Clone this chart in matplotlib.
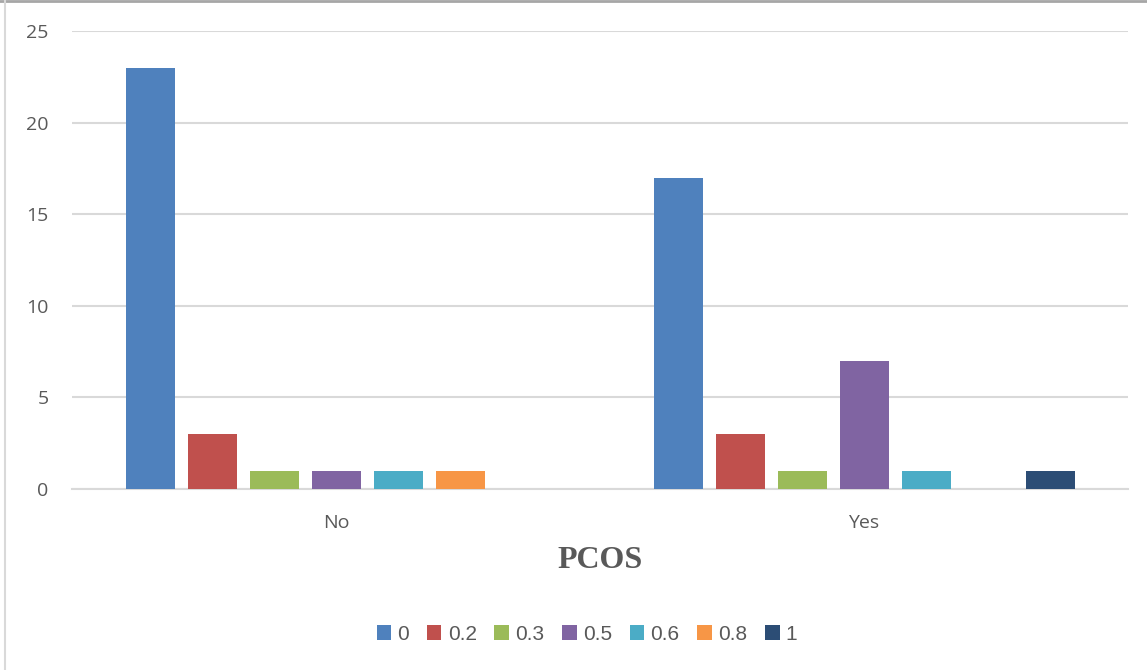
import numpy as np
import matplotlib.pyplot as plt
from matplotlib.lines import Line2D

# grouped bar counts per PCOS answer
groups = ["No", "Yes"]
series = ["0", "0.2", "0.3", "0.5", "0.6", "0.8", "1"]
counts_no = [23, 3, 1, 1, 1, 1, 0]
counts_yes = [17, 3, 1, 7, 1, 0, 1]
colors = ["#4F81BD", "#C0504D", "#9BBB59", "#8064A2", "#4BACC6", "#F79646", "#2C4D75"]

text_grey = "#595959"
grid_grey = "#D9D9D9"

fig = plt.figure(figsize=(11.47, 6.70), dpi=100)
ax = fig.add_axes([72 / 1147, 181 / 670, 1056 / 1147, 458 / 670])

x = np.arange(len(groups))
slot = 62 / 528
width = 49 / 528
for i, name in enumerate(series):
    vals = [counts_no[i], counts_yes[i]]
    offs = (i - (len(series) - 1) / 2) * slot
    ax.bar(x + offs, vals, width, color=colors[i], label=name, zorder=3)

ax.set_xlim(-0.5, 1.5)
ax.set_ylim(0, 25)
ax.set_yticks([0, 5, 10, 15, 20, 25])
ax.set_xticks(x)
ax.set_xticklabels(groups)
ax.yaxis.grid(True, color=grid_grey, linewidth=1.5, zorder=0)
ax.set_axisbelow(True)
for side in ["top", "right", "left"]:
    ax.spines[side].set_visible(False)
ax.spines["bottom"].set_color(grid_grey)
ax.spines["bottom"].set_linewidth(1.5)
ax.tick_params(axis="both", length=0, labelcolor=text_grey, labelsize=14,
               labelfontfamily="Open Sans")
ax.tick_params(axis="y", pad=17)
ax.tick_params(axis="x", pad=18)

fig.text(600 / 1147, 1 - 560 / 670, "PCOS", ha="center", va="center",
         fontsize=23, fontweight="bold", family="Liberation Serif", color=text_grey)

leg = fig.legend(loc="center", bbox_to_anchor=(587 / 1147, 1 - 634 / 670), ncol=7,
                 frameon=False, handlelength=0.7, handleheight=0.7, handletextpad=0.3,
                 columnspacing=0.85, prop={"family": "Liberation Sans", "size": 15})
for t in leg.get_texts():
    t.set_color(text_grey)

# chart frame edges
fig.add_artist(Line2D([0, 1], [0.999, 0.999], color="#A6A6A6", linewidth=2))
fig.add_artist(Line2D([5 / 1147, 5 / 1147], [0, 1], color="#D9D9D9", linewidth=1.5))

fig.savefig("out.png", dpi=100)
